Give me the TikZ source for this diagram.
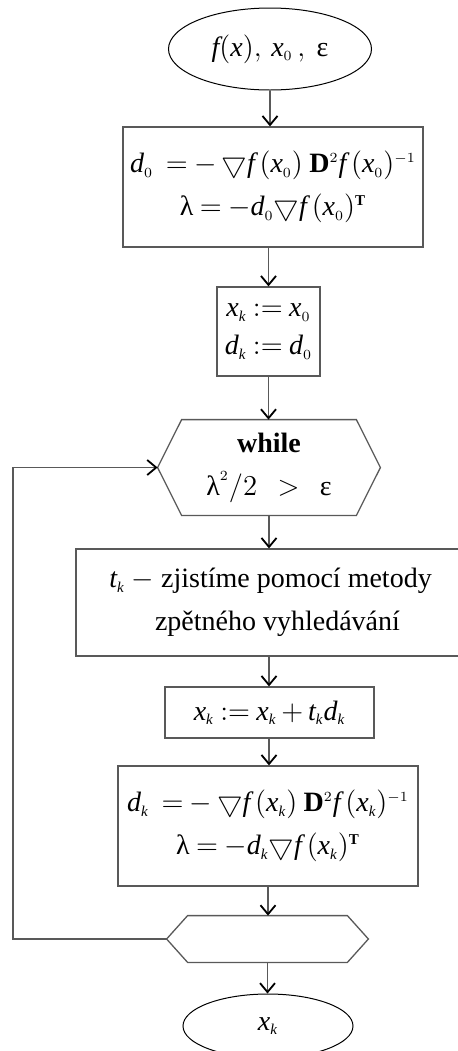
\documentclass[tikz,border=0pt]{standalone}
\usepackage{amsmath,amssymb}
\usepackage{fontspec}
\setmainfont{Liberation Serif}
\usetikzlibrary{shapes.geometric,arrows.meta}
\DeclareMathSizes{14}{14}{7.5}{6}

\tikzset{
  block/.style={draw=black!65, line width=0.65pt, rectangle, inner sep=0pt, align=center},
  term/.style={draw=black, ellipse, line width=0.5pt, inner sep=0pt},
  hexbox/.style={rectangle, inner sep=0pt, align=center},
  hexline/.style={draw=black!65, line width=0.65pt, line join=miter},
  flow/.style={draw=black!65, line width=0.65pt, -{Straight Barb[length=4.5pt,width=7.5pt,line width=0.9pt,color=black]}},
}
\newcommand{\mv}[1]{\mathit{#1}}
\newcommand{\nab}{\mathord{\bigtriangledown}}
% hexagon frame round a node: #1 node, #2 size of the cut
\newcommand{\hexframe}[2]{\draw[hexline] (#1.west) -- ([xshift=#2]#1.north west)
	-- ([xshift=-#2]#1.north east) -- (#1.east) -- ([xshift=-#2]#1.south east)
	-- ([xshift=#2]#1.south west) -- cycle;}

\begin{document}
\thickmuskip=4mu plus 2mu
\medmuskip=3mu plus 1mu
\begin{tikzpicture}[x=0.5pt, y=-0.5pt, font=\fontsize{14}{21.5}\selectfont]
	\useasboundingbox (0,0) rectangle (457,1051);

	% nodes of the scheme
	\node[term, minimum width=101.5pt, minimum height=41pt] (start) at (270,49)
		{$\mv{f}(\mv{x}),\,\mv{x}_0\,,\;\text{ε}$};
	\node[block, minimum width=150pt, minimum height=60pt] (init) at (273,187)
		{$\mv{d}_0 \;= -\,\nab\mv{f}\,(\mv{x}_0)\;\mathbf{D}^2\mv{f}\,(\mv{x}_0)^{-1}$\\
		 $\text{λ} = -\mv{d}_0\nab\mv{f}\,(\mv{x}_0)^{\mathbf{T}}$};
	\node[block, minimum width=51.5pt, minimum height=44.5pt, font=\fontsize{14}{19}\selectfont] (set) at (268.5,331.5)
		{$\mv{x}_{\mv{k}} := \mv{x}_0$\\ $\mv{d}_{\mv{k}} := \mv{d}_0$};
	\node[hexbox, minimum width=111pt, minimum height=47.5pt] (while) at (269,467.5)
		{\textbf{while}\\ $\text{λ}^2/2\ \ >\ \ \text{ε}$};
	\hexframe{while}{12pt}
	\node[block, minimum width=194.5pt, minimum height=53.5pt] (search) at (270.5,602.5)
		{$\mv{t}_{\mv{k}}$ $-$ zjistíme pomocí metody\\ \ \ zpětného vyhledávání};
	\node[block, minimum width=104.5pt, minimum height=25.5pt] (update) at (269.5,712.5)
		{$\mv{x}_{\mv{k}} := \mv{x}_{\mv{k}} + \mv{t}_{\mv{k}}\mv{d}_{\mv{k}}$};
	\node[block, minimum width=150pt, minimum height=60pt] (newdir) at (268,826)
		{$\mv{d}_{\mv{k}} \;= -\,\nab\mv{f}\,(\mv{x}_{\mv{k}})\;\mathbf{D}^2\mv{f}\,(\mv{x}_{\mv{k}})^{-1}$\\
		 $\text{λ} = -\mv{d}_{\mv{k}}\nab\mv{f}\,(\mv{x}_{\mv{k}})^{\mathbf{T}}$};
	\node[hexbox, minimum width=100.5pt, minimum height=23pt] (endw) at (267.5,939) {};
	\hexframe{endw}{10.5pt}
	\node[term, minimum width=85pt, minimum height=32pt] (result) at (268,1026)
		{$\mv{x}_{\mv{k}}$};
	\coordinate (back) at (13,939);

	% connectors
	\draw[flow] (start.south) -- (start.south |- init.north);
	\draw[flow] (set.north |- init.south) -- (set.north);
	\draw[flow] (set.south) -- (set.south |- while.north);
	\draw[flow] (while.south) -- (while.south |- search.north);
	\draw[flow] (while.south |- search.south) -- (while.south |- update.north);
	\draw[flow] (while.south |- update.south) -- (while.south |- newdir.north);
	\draw[flow] (newdir.south) -- (newdir.south |- endw.north);
	\draw[flow] (endw.south) -- (endw.south |- result.north);
	\draw[flow] (endw.west) -- (back) |- (while.west);
\end{tikzpicture}
\end{document}
